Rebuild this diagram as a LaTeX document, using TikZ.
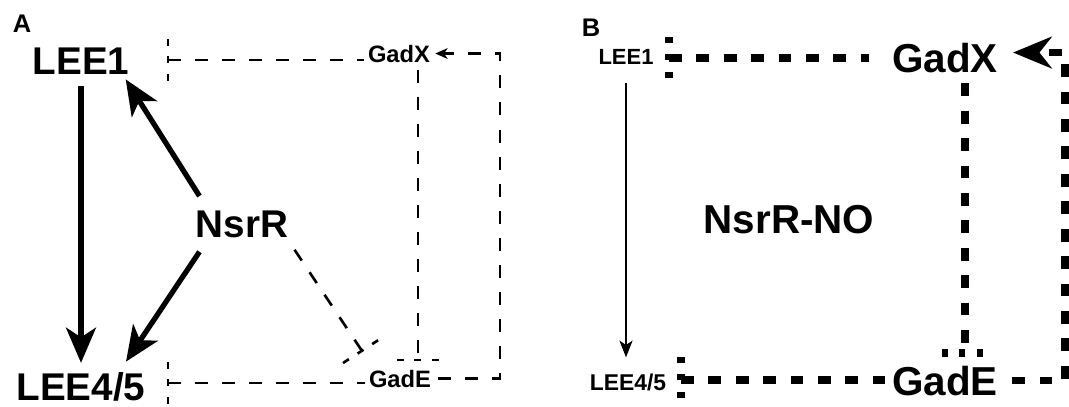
\documentclass[tikz,border=0pt]{standalone}
\usepackage{fontspec}
\setmainfont{Liberation Sans}
\usetikzlibrary{arrows.meta,calc}
\tikzset{
  gene/.style={font=\bfseries\fontsize{22}{26}\selectfont, inner sep=0pt, anchor=base},
  biggene/.style={font=\bfseries\fontsize{23}{27}\selectfont, inner sep=0pt, anchor=base},
  smallgene/.style={font=\bfseries\fontsize{13.5}{16}\selectfont, inner sep=0pt, anchor=base},
  panel/.style={font=\bfseries\fontsize{14.5}{17}\selectfont, inner sep=0pt, anchor=base},
  act/.style={line width=3pt, -{Stealth[length=20pt,width=17pt,inset=5.5pt]}},
  thinact/.style={line width=0.9pt, -{Stealth[length=9.5pt,width=7.5pt,inset=2.5pt]}},
  repA/.style={line width=1.5pt, dash pattern=on 7.4pt off 8pt},
  repB/.style={line width=4pt, dash pattern=on 7.3pt off 8.3pt},
  teeA/.style={line width=1.5pt, dash pattern=on 4pt off 5.9pt},
  teeB/.style={line width=4pt, dash pattern=on 3.4pt off 6.5pt},
}
\begin{document}
\begin{tikzpicture}[x=0.02cm,y=-0.02cm]
  \useasboundingbox (0,0) rectangle (1069,406);
  \draw
    (22,32) node[panel] (pa){A}
    (81,74) node[gene] (lee1a){LEE1}
    (81,400) node[gene] (lee45a){LEE4/5}
    (242,237) node[gene] (nsrra){NsrR}
    (399,62) node[smallgene] (gadxa){GadX}
    (400,387) node[smallgene] (gadea){GadE}
    (591,36) node[panel] (pb){B}
    (626,64) node[smallgene,font=\bfseries\fontsize{12.5}{15}\selectfont] (lee1b){LEE1}
    (628,390) node[smallgene,font=\bfseries\fontsize{13}{15}\selectfont] (lee45b){LEE4/5}
    (789,233) node[biggene] (nsrrno){NsrR-NO}
    (945,72) node[biggene] (gadxb){GadX}
    (945,395) node[biggene] (gadeb){GadE};
  \coordinate (tl1a) at (168,60);
  \coordinate (tl45a) at (168,383);
  \coordinate (tgea) at (418,360);
  \coordinate (tnsa) at (362,351);
  \coordinate (ra) at (500,0);
  \coordinate (tl1b) at (669,58);
  \coordinate (tl45b) at (681,380);
  \coordinate (tgeb) at (965,353);
  \coordinate (rb) at (1065,0);
  \begin{scope}
    \draw[act, shorten <=6.8pt, shorten >=5pt] (lee1a.south) -- (lee1a.south |- lee45a.north);
    \draw[act] ([shift={(4,-14)}]nsrra.north west) -- ([shift={(-4,5)}]lee1a.south east);
    \draw[act] ([shift={(4,14)}]nsrra.south west) -- ([shift={(45,-10)}]lee45a.north);
    \draw[repA, shorten >=2pt] (tl1a) -- (tl1a -| gadxa.west);
    \draw[teeA] ($(tl1a)+(0,-21)$) -- ($(tl1a)+(0,21)$);
    \draw[repA, shorten >=2pt] (tl45a) -- (tl45a -| gadea.west);
    \draw[teeA] ($(tl45a)+(0,-21)$) -- ($(tl45a)+(0,21)$);
    \draw[repA, shorten <=4pt] (gadxa.south -| tgea) -- (tgea);
    \draw[teeA] ($(tgea)+(-21,0)$) -- ($(tgea)+(21,0)$);
    \draw[repA] ([shift={(6,12)}]nsrra.south east) -- (tnsa);
    \draw[teeA] ($(tnsa)+(-19,12)$) -- ($(tnsa)+(18,-12)$);
    \draw[repA, shorten <=4pt, shorten >=2.8pt, -{Stealth[length=7pt,width=6pt,inset=2pt]}]
      (gadea.east) -- (gadea.east -| ra) -- (gadxa.east -| ra) -- (gadxa.east);
  \end{scope}
  \begin{scope}
    \draw[thinact, shorten <=10.8pt, shorten >=9pt] (lee1b.south) -- (lee1b.south |- lee45b.north);
    \draw[repB, shorten >=13pt] (tl1b) -- (tl1b -| gadxb.west);
    \draw[teeB] ($(tl1b)+(0,-21)$) -- ($(tl1b)+(0,20)$);
    \draw[repB, shorten >=4pt] (tl45b) -- (tl45b -| gadeb.west);
    \draw[teeB] ($(tl45b)+(0,-23)$) -- ($(tl45b)+(0,18)$);
    \draw[repB, shorten <=6pt] (gadxb.south -| tgeb) -- (tgeb);
    \draw[teeB] ($(tgeb)+(-23,0)$) -- ($(tgeb)+(18,0)$);
    \draw[repB, shorten <=8pt, shorten >=8.5pt, -{Stealth[length=22pt,width=18pt,inset=7pt]}]
      (gadeb.east) -- (gadeb.east -| rb) -- ($(gadxb.east -| rb)+(0,-5)$) -- ($(gadxb.east)+(0,-5)$);
  \end{scope}
\end{tikzpicture}
\end{document}
